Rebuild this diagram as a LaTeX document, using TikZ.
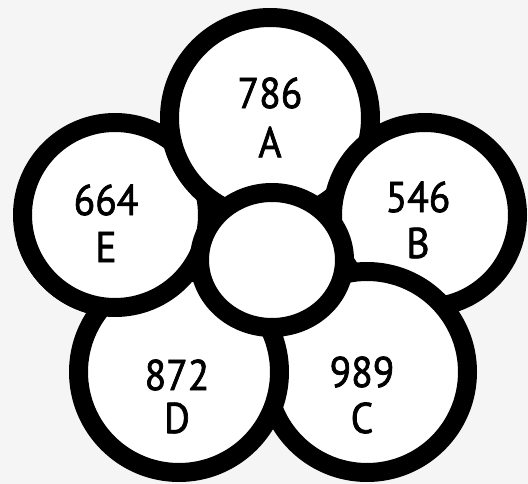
\documentclass[tikz,border=0pt]{standalone}
\usepackage{fontspec}
\setmainfont{PT Sans}[FakeStretch=0.92, FakeBold=1.6]
\definecolor{bggray}{RGB}{245,245,245}
\tikzset{
  ring/.style={draw=black, fill=white, line width=19pt},
  lbl/.style={font=\fontsize{43}{43}\selectfont, inner sep=0pt, text=black}
}
\begin{document}
\begin{tikzpicture}[x=1pt,y=-1pt]
\fill[bggray] (0,0) rectangle (528,484);
\useasboundingbox (0,0) rectangle (528,484);
% petals, cyclic overlap: E < A < B < C < D < E
\coordinate (cE) at (115,215);
\coordinate (cA) at (270,118);
\coordinate (cB) at (425,215);
\coordinate (cC) at (367,372);
\coordinate (cD) at (179,372);
\coordinate (cM) at (272,260);
\path[ring] (cE) circle (92.5pt);
\path[ring] (cA) circle (100.5pt);
\path[ring] (cB) circle (92.5pt);
\path[ring] (cC) circle (100.5pt);
\path[ring] (cD) circle (100.5pt);
\begin{scope}
  \clip (0,245) rectangle (300,484);
  \path[ring] (cE) circle (92.5pt);
\end{scope}
\path[ring] (cM) ellipse [x radius=72.5pt, y radius=67.5pt];
% labels
\node[lbl] (nA) at (270,93) {786};
\node[lbl] (lA) at (270,142) {A};
\node[lbl] (nB) at (418,197) {546};
\node[lbl] (lB) at (418,243) {B};
\node[lbl] (nC) at (362,372) {989};
\node[lbl] (lC) at (362,418) {C};
\node[lbl] (nD) at (177,375) {872};
\node[lbl] (lD) at (177,418) {D};
\node[lbl] (nE) at (106,200) {664};
\node[lbl] (lE) at (106,247) {E};
\end{tikzpicture}
\end{document}
